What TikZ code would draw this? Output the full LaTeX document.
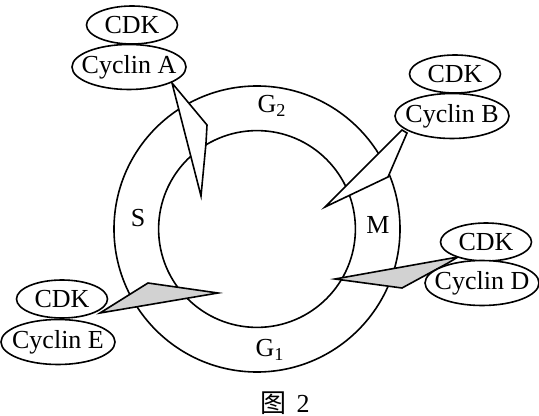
\documentclass[tikz,border=0pt]{standalone}
\usepackage{fontspec}
\setmainfont{Liberation Serif}
\newfontfamily\cjk{Noto Sans CJK SC}
\usetikzlibrary{shapes.geometric}

\tikzset{
  lbl/.style={font=\fontsize{13}{15}\selectfont, inner sep=1pt},
  cdkbox/.style={lbl, ellipse, draw, fill=white, line width=0.8pt,
    inner xsep=-4pt, inner ysep=-3pt,
    minimum width=45.5pt, minimum height=19pt},
  cycbox/.style={lbl, ellipse, draw, fill=white, line width=0.8pt,
    inner xsep=-4pt, inner ysep=-3pt,
    minimum width=57pt, minimum height=22.5pt},
  wedge/.style={draw, fill=white, line width=0.8pt, line join=miter},
  dotwedge/.style={wedge, fill=gray!35}
}

\begin{document}
\begin{tikzpicture}[x=0.5pt, y=-0.5pt]
  % --- canvas: one unit = one pixel of the reference ---
  \useasboundingbox (0,0) rectangle (539,416);
  \def\cx{257}   % ring centre x
  \def\cy{229}   % ring centre y
  \def\ro{71.5pt}% outer radius
  \def\ri{49.2pt}% inner radius

  % --- ring ---
  \draw[line width=0.8pt] (\cx,\cy) circle (\ro);
  \draw[line width=0.8pt] (\cx,\cy) circle (\ri);

  % --- phase labels ---
  \node[lbl] (g2) at (272,106) {G\textsubscript{2}};
  \node[lbl] (s)  at (138,218) {S};
  \node[lbl] (m)  at (378,225) {M};
  \node[lbl] (g1) at (270,350) {G\textsubscript{1}};

  % --- wedges pointing into the ring ---
  \draw[wedge]    (172,83) -- (207,125) -- (206,143) -- (201,196) -- cycle;
  \draw[wedge]    (402,130) -- (325,207) -- (388,177) -- (407,133) -- cycle;
  \draw[dotwedge] (335,279) -- (458,257) -- (448,263) -- (402,288) -- cycle;
  \draw[dotwedge] (100,313) -- (148,283) -- (218,293) -- cycle;

  % --- CDK / cyclin pairs ---
  \node[cdkbox] (cdkA) at (132,25)  {CDK};
  \node[cycbox] (cycA) at (129,67)  {Cyclin A};
  \node[cdkbox] (cdkB) at (455,74)  {CDK};
  \node[cycbox] (cycB) at (452,116) {Cyclin B};
  \node[cdkbox] (cdkD) at (486,242) {CDK};
  \node[cycbox] (cycD) at (482,283) {Cyclin D};
  \node[cdkbox] (cdkE) at (62,299)  {CDK};
  \node[cycbox] (cycE) at (58,342)  {Cyclin E};

  % --- caption ---
  \node[lbl] (cap) at (285,403) {{\cjk 图}\hspace{5pt}2};
\end{tikzpicture}
\end{document}
